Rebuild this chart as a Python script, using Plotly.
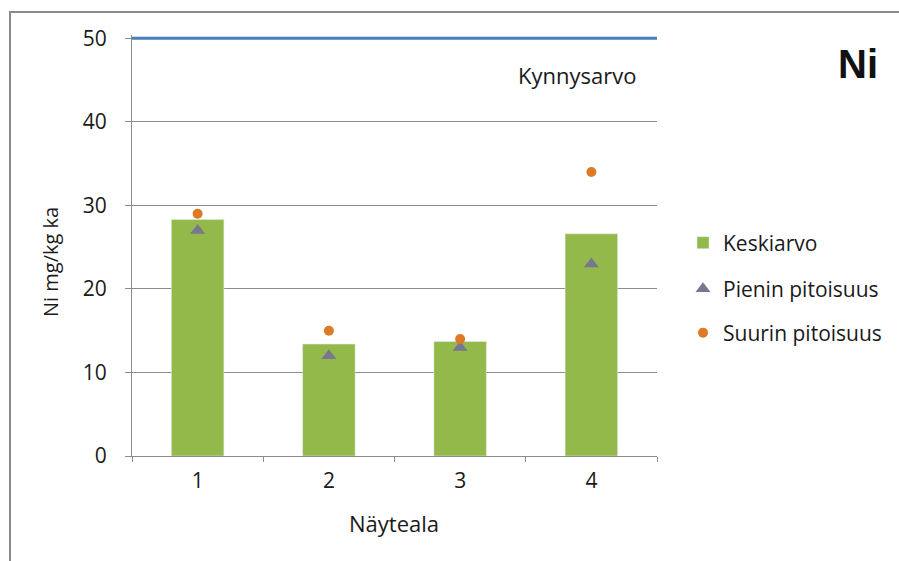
import plotly.graph_objects as go

# Sampling areas and nickel concentrations (mg/kg dry matter)
areas = ["1", "2", "3", "4"]
mean_ni = [28.3, 13.4, 13.7, 26.6]
min_ni = [27, 12, 13, 23]
max_ni = [29, 15, 14, 34]
threshold = 50

FONT = "'Open Sans', Lato, sans-serif"
TXT = "#1a1a1a"
GREEN = "#94B94B"
TRI = "#77778F"
ORANGE = "#DE7A26"
GRID = "#8C8C8C"

# value axis slightly above the threshold so its line is not clipped
Y_TOP = 50.4
PLOT_T, PLOT_B = 35, 456
PW, PH = 525, PLOT_B - PLOT_T


def px(x):
    return (x - 132) / PW


def py(y):
    return (PLOT_B - y) / PH


fig = go.Figure()
fig.add_trace(go.Bar(x=areas, y=mean_ni, name="Keskiarvo", marker_color=GREEN,
                     width=0.4, legend="legend"))
fig.add_trace(go.Scatter(x=areas, y=min_ni, name="Pienin pitoisuus", mode="markers",
                         marker=dict(symbol="triangle-up", size=13, color=TRI),
                         legend="legend2"))
fig.add_trace(go.Scatter(x=areas, y=max_ni, name="Suurin pitoisuus", mode="markers",
                         marker=dict(symbol="circle", size=10, color=ORANGE),
                         legend="legend3"))

# Threshold value line across the plot
fig.add_shape(type="line", xref="paper", yref="y", x0=0, x1=1, y0=threshold, y1=threshold,
              line=dict(color="#4A7EBB", width=3), layer="above")

# Outer chart frame
fig.add_shape(type="rect", xref="paper", yref="paper", x0=px(10), x1=px(960), y0=py(620), y1=py(12),
              line=dict(color="#8A8A8A", width=2), fillcolor="rgba(0,0,0,0)", layer="below")

legend_common = dict(xanchor="left", yanchor="middle", bgcolor="rgba(0,0,0,0)",
                     font=dict(family=FONT, size=21, color=TXT), itemwidth=30)
fig.update_layout(
    width=899, height=561,
    margin=dict(l=132, r=242, t=PLOT_T, b=561 - PLOT_B),
    plot_bgcolor="white", paper_bgcolor="white",
    font=dict(family=FONT, size=21, color=TXT),
    showlegend=True,
    legend=dict(x=px(683), y=py(243), **legend_common),
    legend2=dict(x=px(683), y=py(289), **legend_common),
    legend3=dict(x=px(683), y=py(333), **legend_common),
    bargap=0.6,
    xaxis=dict(type="category", showline=True, linecolor=GRID, linewidth=1,
               ticks="outside", tickson="boundaries", ticklen=5, tickcolor=GRID,
               tickfont=dict(size=21, color=TXT), showgrid=False, ticklabelstandoff=6),
    yaxis=dict(range=[0, Y_TOP], tickvals=[0, 10, 20, 30, 40, 50], showline=True,
               linecolor=GRID, linewidth=1, ticks="outside", ticklen=6, tickcolor=GRID,
               showgrid=True, gridcolor=GRID, gridwidth=1, zeroline=False,
               tickfont=dict(size=21, color=TXT), ticklabelstandoff=14),
    annotations=[
        dict(text="Ni mg/kg ka", xref="paper", yref="paper", x=px(50), y=py(262),
             xanchor="center", yanchor="middle", textangle=-90, showarrow=False,
             font=dict(size=20)),
        dict(text="Näyteala", xref="paper", yref="paper", x=px(394), y=py(523),
             xanchor="center", yanchor="middle", showarrow=False, font=dict(size=22)),
        dict(text="Kynnysarvo", xref="paper", yref="paper", x=px(577), y=py(75),
             xanchor="center", yanchor="middle", showarrow=False, font=dict(size=22)),
        dict(text="<b>Ni</b>", xref="paper", yref="paper", x=px(858), y=py(64),
             xanchor="center", yanchor="middle", showarrow=False,
             font=dict(size=40, family="'Liberation Sans', Arial, sans-serif", color="#111111")),
    ],
)

fig.write_html("out.html")
